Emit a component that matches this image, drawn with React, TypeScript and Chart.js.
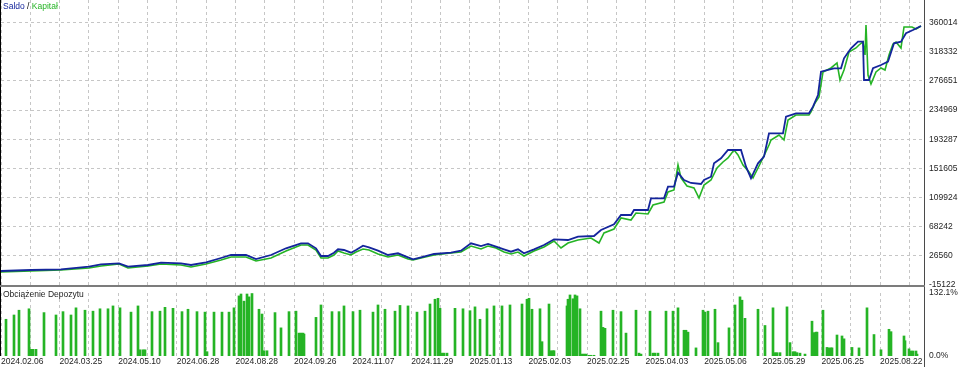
import React, { useEffect, useRef } from 'react';
import { Chart, registerables } from 'chart.js';

Chart.register(...registerables);

// ---- Data (x = trade sequence position, value in account currency) ----
const balanceTrade = [0, 30, 60, 88, 100, 118, 127, 147, 160, 180, 190, 205, 220, 230, 245, 255, 270, 285, 300, 307, 315, 320, 327, 333, 337, 343, 350, 355, 362, 368, 377, 387, 397, 407, 412, 420, 433, 450, 460, 470, 480, 487, 495, 503, 510, 517, 523, 533, 543, 553, 567, 577, 593, 600, 613, 620, 630, 633, 647, 650, 663, 667, 673, 677, 683, 690, 700, 703, 710, 713, 720, 727, 740, 745, 750, 757, 763, 768, 782, 785, 795, 808, 812, 817, 820, 833, 840, 843, 850, 857, 862, 863, 868, 872, 880, 887, 893, 900, 905, 912, 920];
const balanceValue = [4900, 6330, 7330, 11050, 14480, 15910, 11050, 13480, 16770, 15910, 13480, 17340, 23490, 27780, 27780, 22060, 27780, 37360, 44510, 44510, 37360, 26350, 26350, 31070, 35930, 34930, 31070, 34930, 41080, 38790, 33930, 27780, 30210, 24490, 21630, 24490, 29210, 31070, 33930, 44510, 40650, 43510, 39650, 35930, 32500, 35930, 30210, 35930, 42080, 50230, 49230, 53950, 54950, 63530, 71680, 84980, 84980, 92130, 92130, 108860, 108860, 125450, 125450, 145470, 135030, 130740, 129310, 135030, 139750, 158910, 166060, 177930, 177930, 154050, 137460, 158910, 168350, 201810, 201810, 225550, 230410, 230410, 239850, 256580, 289900, 294760, 294760, 309060, 323360, 332800, 332800, 278030, 278030, 294760, 299480, 304200, 330510, 332800, 344810, 349530, 355250];

const equityTrade = [0, 30, 60, 88, 100, 118, 127, 147, 160, 180, 190, 205, 220, 230, 245, 255, 270, 285, 300, 307, 315, 320, 327, 333, 337, 343, 350, 355, 362, 368, 377, 387, 397, 407, 412, 420, 433, 450, 460, 470, 480, 487, 495, 503, 510, 517, 523, 533, 543, 553, 560, 567, 577, 590, 598, 603, 613, 620, 630, 635, 647, 652, 663, 667, 673, 677, 680, 686, 693, 698, 703, 710, 716, 722, 727, 733, 737, 742, 748, 752, 757, 762, 768, 770, 778, 783, 787, 795, 808, 810, 814, 818, 822, 830, 836, 839, 843, 848, 855, 858, 862, 864, 865, 867, 870, 875, 880, 884, 888, 892, 895, 900, 903, 911, 915, 920];
const equityValue = [3470, 4900, 6330, 9190, 12050, 14910, 9190, 12050, 14910, 13480, 10620, 14910, 20630, 24920, 24920, 19200, 23490, 33500, 42080, 42080, 34930, 23490, 23490, 27780, 33500, 30640, 27780, 32070, 36360, 34930, 29210, 24920, 27780, 22060, 20630, 23490, 27780, 30640, 32070, 40650, 36360, 40650, 37790, 32070, 29210, 32070, 26350, 33500, 39220, 47800, 37790, 44940, 49230, 52090, 44940, 59240, 64960, 80690, 77830, 87840, 86410, 99280, 103570, 117870, 120730, 156480, 137890, 126450, 123590, 109290, 127880, 135030, 152190, 160770, 166490, 177930, 170780, 156480, 146470, 137890, 152190, 166490, 185080, 192230, 199380, 192230, 220830, 227980, 227980, 232270, 245140, 253720, 289470, 295190, 302340, 278030, 292330, 318070, 323790, 328080, 332370, 313780, 356680, 285180, 272310, 289470, 295190, 292330, 313780, 329510, 332370, 323790, 353820, 353820, 350960, 355250];

const loadTrade = [5, 13, 18, 28, 30, 32, 35, 43, 55, 62, 70, 75, 84, 92, 99, 107, 112, 119, 130, 137, 139, 142, 144, 151, 159, 164, 172, 181, 187, 196, 204, 206, 213, 221, 228, 233, 238, 240, 243, 246, 248, 251, 258, 261, 263, 266, 274, 280, 288, 295, 298, 300, 302, 303, 315, 320, 331, 338, 343, 352, 359, 372, 377, 384, 394, 399, 407, 416, 424, 429, 434, 437, 439, 441, 443, 446, 454, 462, 469, 474, 479, 486, 489, 493, 501, 509, 521, 526, 528, 531, 539, 541, 548, 550, 552, 553, 566, 567, 569, 572, 574, 576, 579, 581, 583, 585, 588, 590, 593, 600, 602, 604, 612, 620, 625, 635, 638, 640, 649, 652, 654, 657, 665, 672, 677, 683, 685, 687, 695, 702, 704, 707, 714, 717, 728, 734, 739, 741, 744, 757, 764, 772, 774, 776, 779, 786, 789, 792, 794, 796, 799, 804, 811, 813, 815, 816, 822, 826, 828, 830, 831, 836, 841, 843, 851, 858, 866, 873, 880, 888, 890, 903, 904, 908, 910, 912, 915, 916];
const loadPct = [77, 86, 96, 99, 14, 14, 14, 91, 86, 93, 86, 101, 96, 94, 99, 99, 105, 101, 92, 105, 13, 13, 13, 93, 94, 102, 100, 93, 98, 93, 92, 9, 92, 92, 92, 101, 126, 130, 115, 130, 124, 131, 98, 88, 11, 11, 91, 59, 93, 94, 48, 48, 48, 46, 81, 107, 93, 93, 105, 93, 96, 92, 107, 98, 94, 106, 105, 92, 94, 109, 119, 121, 100, 6, 6, 6, 100, 99, 95, 103, 77, 99, 2, 105, 105, 107, 109, 119, 121, 98, 99, 30, 109, 11, 11, 11, 105, 119, 128, 120, 128, 126, 99, 4, 4, 4, 1.5, 1.5, 1.5, 94, 60, 58, 96, 93, 48, 96, 6, 4, 94, 6, 6, 6, 94, 94, 101, 54, 54, 50, 17, 96, 92, 94, 98, 28, 59, 107, 124, 117, 79, 98, 64, 101, 7, 7, 7, 103, 28, 9, 9, 7, 6, 4, 73, 49, 50, 50, 96, 18, 17, 17, 17, 44, 42, 36, 18, 17, 101, 45, 13, 56, 51, 42, 32, 15, 10.5, 10.5, 10.5, 4];

const balanceTicks = [-15122, 26560, 68242, 109924, 151605, 193287, 234969, 276651, 318332, 360014];
const loadTicks = [0, 132.1];
const dateLabels = ['2024.02.06', '2024.03.25', '2024.05.10', '2024.06.28', '2024.08.28', '2024.09.26', '2024.11.07', '2024.11.29', '2025.01.13', '2025.02.03', '2025.02.25', '2025.04.03', '2025.05.06', '2025.05.29', '2025.06.25', '2025.08.22'];

// ---- Layout / style constants ----
const X_MIN = 0;
const X_MAX = 923;
const GRID_STEP = 29.3;
const GRID_COUNT = 32;
const FONT_FAMILY = 'Tahoma, "Liberation Sans", Arial, sans-serif';
const FONT = { family: FONT_FAMILY, size: 8.5 };
const BLUE = '#14259c';
const GREEN = '#25b425';
const GRID_COLOR = '#c6c6c6';
const TEXT_COLOR = '#1e1e1e';

const gridTicks = () => Array.from({ length: GRID_COUNT }, (_, k) => ({ value: k * GRID_STEP }));

const framePlugin = {
  id: 'frame',
  afterDraw(chart: any, _args: any, opts: any) {
    const { ctx, chartArea } = chart;
    ctx.save();
    ctx.setLineDash([]);
    ctx.strokeStyle = '#000000';
    ctx.lineWidth = 1;
    ctx.beginPath();
    ctx.moveTo(0.5, 0);
    ctx.lineTo(0.5, chartArea.bottom);
    ctx.stroke();
    ctx.strokeStyle = '#4a4a4a';
    ctx.beginPath();
    ctx.moveTo(chartArea.right + 0.5, 0);
    ctx.lineTo(chartArea.right + 0.5, chart.height);
    ctx.stroke();
    if (opts && opts.bottomBand) {
      ctx.fillStyle = '#7c7c7c';
      ctx.fillRect(0, chartArea.bottom, chartArea.right + 1, 2);
    }
    ctx.restore();
  },
};

function MainChart() {
  const ref = useRef<HTMLCanvasElement | null>(null);
  useEffect(() => {
    if (!ref.current) return;
    const chart = new Chart(ref.current, {
      type: 'line',
      data: {
        datasets: [
          {
            label: 'Saldo',
            data: balanceTrade.map((x, i) => ({ x, y: balanceValue[i] })),
            borderColor: BLUE,
            borderWidth: 1.8,
            pointRadius: 0,
            tension: 0,
          },
          {
            label: 'Kapitał',
            data: equityTrade.map((x, i) => ({ x, y: equityValue[i] })),
            borderColor: GREEN,
            borderWidth: 1.6,
            pointRadius: 0,
            tension: 0,
          },
        ],
      },
      plugins: [framePlugin],
      options: {
        animation: false,
        responsive: false,
        maintainAspectRatio: false,
        devicePixelRatio: 1,
        layout: { padding: { left: 1, right: 0, top: 0, bottom: 3 } },
        plugins: {
          legend: { display: false },
          tooltip: { enabled: false },
          frame: { bottomBand: true },
        } as any,
        scales: {
          x: {
            type: 'linear',
            min: X_MIN,
            max: X_MAX,
            offset: false,
            afterBuildTicks: (s: any) => { s.ticks = gridTicks(); },
            afterFit: (s: any) => { s.height = 0; s.paddingLeft = 0; s.paddingRight = 0; },
            ticks: { display: false },
            grid: { color: GRID_COLOR, drawTicks: false, offset: false },
            border: { display: false, dash: [3, 3] },
          },
          y: {
            position: 'right',
            min: -15122,
            max: 392400,
            afterBuildTicks: (s: any) => { s.ticks = balanceTicks.map((v) => ({ value: v })); },
            afterFit: (s: any) => { s.width = 36; s.paddingTop = 0; s.paddingBottom = 0; },
            ticks: {
              font: FONT,
              color: TEXT_COLOR,
              padding: 5,
              callback: (v: any) => String(v),
            },
            grid: { color: GRID_COLOR, drawTicks: false },
            border: { display: false, dash: [3, 3] },
          },
        },
      } as any,
    });
    return () => chart.destroy();
  }, []);
  return <canvas ref={ref} width={960} height={288} style={{ position: 'absolute', left: 0, top: 0, width: 960, height: 288 }} />;
}

function LoadChart() {
  const ref = useRef<HTMLCanvasElement | null>(null);
  useEffect(() => {
    if (!ref.current) return;
    const chart = new Chart(ref.current, {
      type: 'bar',
      data: {
        datasets: [
          {
            label: 'Obciążenie Depozytu',
            data: loadTrade.map((x, i) => ({ x, y: loadPct[i] })),
            backgroundColor: GREEN,
            borderWidth: 0,
            barThickness: 2,
          },
        ],
      },
      plugins: [framePlugin],
      options: {
        animation: false,
        responsive: false,
        maintainAspectRatio: false,
        devicePixelRatio: 1,
        layout: { padding: { left: 1, right: 0, top: 6, bottom: 0 } },
        plugins: {
          legend: { display: false },
          tooltip: { enabled: false },
          frame: {},
        } as any,
        scales: {
          x: {
            type: 'linear',
            min: X_MIN,
            max: X_MAX,
            offset: false,
            afterBuildTicks: (s: any) => { s.ticks = gridTicks(); },
            afterFit: (s: any) => { s.height = 11; s.paddingLeft = 0; s.paddingRight = 0; },
            ticks: {
              display: true,
              autoSkip: false,
              maxRotation: 0,
              minRotation: 0,
              align: 'start',
              padding: 1,
              font: FONT,
              color: TEXT_COLOR,
              callback: (_v: any, i: number) => (i % 2 === 0 ? dateLabels[i / 2] ?? '' : ''),
            },
            grid: { color: GRID_COLOR, drawTicks: false, offset: false },
            border: { display: false, dash: [3, 3] },
          },
          y: {
            position: 'right',
            min: 0,
            max: 132.1,
            afterBuildTicks: (s: any) => { s.ticks = loadTicks.map((v) => ({ value: v })); },
            afterFit: (s: any) => { s.width = 36; s.paddingTop = 0; s.paddingBottom = 0; },
            ticks: {
              font: FONT,
              color: TEXT_COLOR,
              padding: 5,
              callback: (v: any) => Number(v).toFixed(1) + '%',
            },
            grid: { display: false, drawTicks: false },
            border: { display: false },
          },
        },
      } as any,
    });
    return () => chart.destroy();
  }, []);
  return <canvas ref={ref} width={960} height={80} style={{ position: 'absolute', left: 0, top: 287, width: 960, height: 80 }} />;
}

export default function App() {
  const textStyle: React.CSSProperties = {
    position: 'absolute',
    fontFamily: FONT_FAMILY,
    fontSize: '8.5px',
    lineHeight: '10px',
    whiteSpace: 'nowrap',
    color: TEXT_COLOR,
  };
  return (
    <div style={{ position: 'fixed', left: 0, top: 0, width: 960, height: 367, background: '#ffffff', overflow: 'hidden' }}>
      <MainChart />
      <LoadChart />
      <div style={{ ...textStyle, left: 3, top: 1 }}>
        <span style={{ color: BLUE }}>Saldo</span>
        <span style={{ color: '#000' }}> / </span>
        <span style={{ color: GREEN }}>Kapitał</span>
      </div>
      <div style={{ ...textStyle, left: 3, top: 289 }}>Obciążenie Depozytu</div>
    </div>
  );
}
